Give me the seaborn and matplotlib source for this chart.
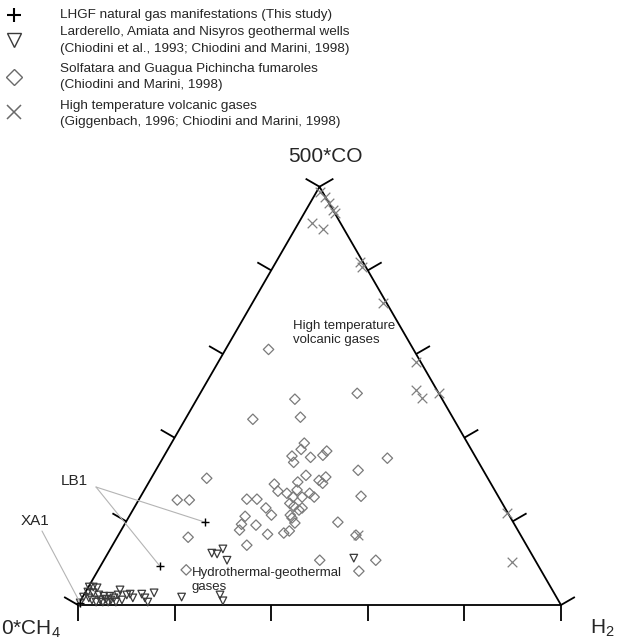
import numpy as np
import pandas as pd
import matplotlib
matplotlib.use("Agg")
import matplotlib.pyplot as plt
from matplotlib.lines import Line2D
import seaborn as sns

# Compositions in % of the normalised triplet (CH4, H2, 500*CO); CH4 = 100 - H2 - CO
# LHGF natural gas manifestations: LB1 (two samples), XA1
lhgf_h2 = [16.4, 12.3, 0.2]
lhgf_co = [19.8, 9.3, 0.5]

# Larderello, Amiata and Nisyros geothermal wells
geo_h2 = [0.2, 0.2, 0.5, 0.2, 1.0, 1.9, 1.7, 1.4, 2.3, 3.4, 4.0, 4.8, 5.1, 5.9,
          6.2, 6.6, 7.5, 7.1, 6.9, 8.5, 8.9, 9.5, 10.5, 11.9, 13.0, 14.1, 14.3,
          20.5, 28.2, 29.5, 21.5, 22.7, 23.3, 25.5, 51.5, 3.1, 4.3, 5.5]
geo_co = [0.5, 1.9, 3.1, 4.3, 4.3, 4.1, 2.9, 1.7, 1.2, 0.7, 1.2, 0.7, 1.4, 0.7,
          1.2, 1.7, 0.7, 2.4, 3.6, 1.2, 2.4, 2.6, 1.7, 2.6, 1.7, 0.7, 2.9,
          1.9, 2.4, 1.0, 12.4, 12.2, 13.4, 10.7, 11.2, 2.4, 2.1, 2.1]

# Solfatara and Guagua Pichincha fumaroles
fum_h2 = [8.9, 32.5, 20.3, 14.0, 23.6, 27.5, 27.6, 26.5, 27.6, 30.5, 32.8, 33.1,
          46.5, 11.5, 31.7, 30.8, 35.0, 36.0, 36.1, 41.9, 26.2, 27.8, 29.9, 31.6,
          33.5, 34.6, 36.0, 45.6, 22.3, 24.4, 8.0, 10.5, 27.3, 31.7, 32.9, 34.4,
          34.8, 24.0, 29.3, 33.2, 33.9, 35.1, 43.9, 27.3, 24.2, 24.5, 30.8, 34.0,
          34.9, 14.7, 27.8, 49.2, 44.7, 56.3, 54.1, 18.2, 31.6]
fum_co = [61.1, 50.6, 49.2, 44.4, 44.9, 38.7, 37.2, 35.6, 34.1, 35.3, 35.8, 36.8,
          35.1, 30.3, 31.0, 29.4, 29.8, 30.6, 29.1, 32.2, 28.9, 27.2, 26.7, 25.8,
          25.8, 26.7, 25.8, 26.0, 25.3, 25.3, 25.1, 25.1, 23.2, 24.3, 23.6, 22.7,
          23.2, 21.2, 21.5, 21.5, 20.8, 19.6, 19.8, 19.1, 19.3, 17.9, 16.9, 17.2,
          17.7, 16.2, 14.3, 16.7, 10.7, 10.7, 8.1, 8.4, 27.5]

# High temperature volcanic gases
volc_h2 = [0.8, 2.3, 3.8, 5.5, 6.4, 2.7, 5.7, 17.5, 18.5, 26.9, 41.0, 44.3,
           46.4, 49.4, 49.6, 77.8, 84.7]
volc_co = [98.8, 97.6, 96.2, 94.5, 93.6, 91.4, 90.0, 81.9, 80.7, 72.3, 58.0, 51.3,
           49.6, 50.6, 16.7, 22.0, 10.3]

legend_labels = [
    "LHGF natural gas manifestations (This study)",
    "Larderello, Amiata and Nisyros geothermal wells\n(Chiodini et al., 1993; Chiodini and Marini, 1998)",
    "Solfatara and Guagua Pichincha fumaroles\n(Chiodini and Marini, 1998)",
    "High temperature volcanic gases\n(Giggenbach, 1996; Chiodini and Marini, 1998)",
]

W, H = 621, 642
S3 = np.sqrt(3) / 2


def to_xy(h2, co):
    h2 = np.asarray(h2) / 100.0
    co = np.asarray(co) / 100.0
    return h2 + co / 2, co * S3


def fxy(px, py):
    # pixel position -> figure fraction
    return px / W, 1 - py / H


frames = []
for name, h2, co in [("lhgf", lhgf_h2, lhgf_co), ("geo", geo_h2, geo_co),
                     ("fum", fum_h2, fum_co), ("volc", volc_h2, volc_co)]:
    x, y = to_xy(h2, co)
    frames.append(pd.DataFrame({"group": name, "x": x, "y": y}))
df = pd.concat(frames, ignore_index=True)

sns.set_style("white")
plt.rcParams["font.family"] = ["Liberation Sans", "DejaVu Sans"]
plt.rcParams["mathtext.fontset"] = "custom"
plt.rcParams["mathtext.rm"] = "Liberation Sans"

fig = plt.figure(figsize=(W / 100, H / 100), dpi=100)
ax = fig.add_axes([0, 0, 1, 1])
side = 483.0
ax.set_xlim(-78 / side, (W - 78) / side)
ax.set_ylim(-(H - 605) / side, 605 / side)
ax.axis("off")

# === TRIANGLE FRAME + TICKS ===
ax.plot([0, 1, 0.5, 0], [0, 0, S3, 0], color="black", lw=1.3, zorder=1)
L = 16 / side
for t in np.linspace(0, 1, 6):
    ax.plot([t, t], [0, -L], color="black", lw=1.3, solid_capstyle="butt")
    bx, by = t * 0.5, t * S3
    ax.plot([bx, bx - L * S3], [by, by + L * 0.5], color="black", lw=1.3,
            solid_capstyle="butt")
    rx, ry = 1 - t * 0.5, t * S3
    ax.plot([rx, rx + L * S3], [ry, ry + L * 0.5], color="black", lw=1.3,
            solid_capstyle="butt")

# === DATA ===
sns.scatterplot(data=df[df.group == "fum"], x="x", y="y", marker="D", s=28,
                facecolor="none", edgecolor="#7a7a7a", linewidth=0.9,
                ax=ax, legend=False, zorder=3)
sns.scatterplot(data=df[df.group == "geo"], x="x", y="y", marker="v", s=30,
                facecolor="none", edgecolor="#3a3a3a", linewidth=0.9,
                ax=ax, legend=False, zorder=3)
sns.scatterplot(data=df[df.group == "volc"], x="x", y="y", marker="x", s=48,
                color="#808080", linewidth=0.9, ax=ax, legend=False, zorder=3)
sns.scatterplot(data=df[df.group == "lhgf"], x="x", y="y", marker="+", s=40,
                color="black", linewidth=1.0, ax=ax, legend=False, zorder=4)

# === ANNOTATIONS ===
lx, ly = to_xy(lhgf_h2, lhgf_co)
line_kw = dict(arrowstyle="-", color="#b4b4b4", lw=0.8, shrinkA=0, shrinkB=0)
for i in (0, 1):
    ax.annotate("", xy=(lx[i], ly[i]), xycoords="data",
                xytext=fxy(96, 487), textcoords="figure fraction",
                arrowprops=line_kw)
ax.annotate("", xy=(lx[2], ly[2]), xycoords="data",
            xytext=fxy(42, 531), textcoords="figure fraction", arrowprops=line_kw)

fig.text(*fxy(61, 481), "LB1", fontsize=11, ha="left", va="center")
fig.text(*fxy(21, 521), "XA1", fontsize=11, ha="left", va="center")
fig.text(*fxy(293, 333), "High temperature\nvolcanic gases", fontsize=9.5,
         ha="left", va="center")
fig.text(*fxy(192, 580), "Hydrothermal-geothermal\ngases", fontsize=9.5,
         ha="left", va="center")

fig.text(*fxy(325, 157), "500*CO", fontsize=15, ha="center", va="center")
fig.text(*fxy(590, 633), r"H$_\mathregular{2}$", fontsize=15, ha="left",
         va="baseline")
fig.text(*fxy(1, 634), r"0*CH$_\mathregular{4}$", fontsize=15, ha="left",
         va="baseline")

# === LEGEND (drawn by hand for exact line pitch) ===
leg_markers = [
    dict(marker="+", color="black", markersize=10, markeredgewidth=1.5),
    dict(marker="v", markerfacecolor="none", markeredgecolor="#3a3a3a",
         markersize=9.5, markeredgewidth=1.0),
    dict(marker="D", markerfacecolor="none", markeredgecolor="#6a6a6a",
         markersize=8.5, markeredgewidth=1.0),
    dict(marker="x", color="#6a6a6a", markersize=9.5, markeredgewidth=1.1),
]
entry_y = [15, 40.5, 77, 114]
marker_y = [15, 40, 77, 112]
for label, mk, ty, my in zip(legend_labels, leg_markers, entry_y, marker_y):
    fig.add_artist(Line2D([14 / W], [1 - my / H], ls="none",
                          transform=fig.transFigure, **mk))
    fig.text(*fxy(60, ty), label, fontsize=9.7, ha="left", va="center",
             linespacing=1.55)

fig.savefig("out.png", dpi=100)
